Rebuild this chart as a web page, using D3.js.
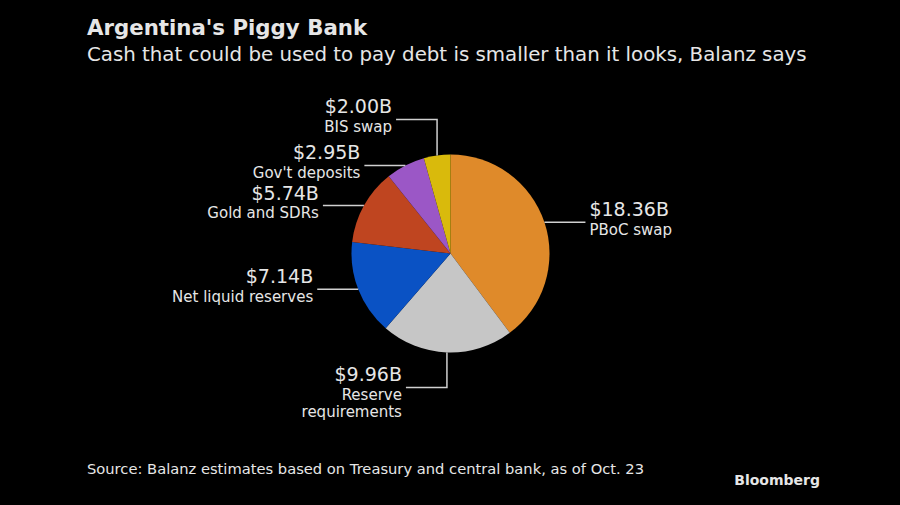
<!DOCTYPE html>
<html><head><meta charset="utf-8">
<script src="https://cdn.jsdelivr.net/npm/d3@7/dist/d3.min.js"></script>
<style>
html,body{margin:0;padding:0;background:#000;}
svg{display:block;}
text{font-family:"DejaVu Sans",sans-serif;fill:#e6e6e6;}
</style></head>
<body>
<script>
const categories = ["PBoC swap","Reserve requirements","Net liquid reserves","Gold and SDRs","Gov't deposits","BIS swap"];
const values = [18.36, 9.96, 7.14, 5.74, 2.95, 2.00];
const valueLabels = ["$18.36B","$9.96B","$7.14B","$5.74B","$2.95B","$2.00B"];
const nameLines = [["PBoC swap"],["Reserve","requirements"],["Net liquid reserves"],["Gold and SDRs"],["Gov't deposits"],["BIS swap"]];
const colors = ["#DF8A2A","#C6C6C6","#0A52C4","#BF4520","#9B57C6","#D9BA0C"];
// leader style: "h" = horizontal, "v" = vertical then horizontal
const leaderType = ["h","v","h","h","h","v"];

const W = 900, H = 505;
const svg = d3.select("body").append("svg").attr("width",W).attr("height",H);
svg.append("rect").attr("width",W).attr("height",H).attr("fill","#000");

svg.append("text").attr("x",87).attr("y",35).attr("font-size",21.3).attr("font-weight","bold").attr("fill","#f2f2f2")
  .text("Argentina's Piggy Bank");
svg.append("text").attr("x",87).attr("y",61).attr("font-size",19.8)
  .text("Cash that could be used to pay debt is smaller than it looks, Balanz says");
svg.append("text").attr("x",87).attr("y",474).attr("font-size",14.7).attr("fill","#cfcfcf")
  .text("Source: Balanz estimates based on Treasury and central bank, as of Oct. 23");
svg.append("text").attr("x",820).attr("y",485).attr("text-anchor","end").attr("font-size",14).attr("font-weight","bold")
  .attr("font-family","Liberation Sans, Arial, sans-serif").attr("fill","#e0e0e0")
  .text("Bloomberg");

const cx = 450.5, cy = 253.5, R = 99;
const pie = d3.pie().sort(null).value(d=>d)(values);
const arc = d3.arc().innerRadius(0).outerRadius(R);
const g = svg.append("g").attr("transform",`translate(${cx},${cy})`);
g.selectAll("path").data(pie).join("path").attr("d",arc).attr("fill",(d,i)=>colors[i]);

const lineColor = "#d0d0d0";
const lg = svg.append("g");
pie.forEach((d,i)=>{
  const a = (d.startAngle+d.endAngle)/2;
  const px = cx + R*Math.sin(a), py = cy - R*Math.cos(a);
  const right = Math.sin(a) > 0;
  const dir = right ? 1 : -1;
  let pts, ly, ex;
  if (leaderType[i]==="h") {
    ly = py; ex = px + dir*41;
    pts = [[px,py],[ex,py]];
  } else {
    const up = Math.cos(a) > 0;
    ly = py + (up ? -36 : 35);
    ex = px - 41;
    pts = [[px,py],[px,ly],[ex,ly]];
  }
  lg.append("path").attr("d",d3.line()(pts)).attr("fill","none").attr("stroke",lineColor).attr("stroke-width",1.5);
  const tx = ex + (right ? 4 : -4);
  const anchor = right ? "start" : "end";
  lg.append("text").attr("x",tx).attr("y",ly-6).attr("text-anchor",anchor).attr("font-size",19).attr("fill","#f0f0f0").text(valueLabels[i]);
  nameLines[i].forEach((t,j)=>{
    lg.append("text").attr("x",tx).attr("y",ly+12.5+j*17.5).attr("text-anchor",anchor).attr("font-size",15).attr("fill","#e6e6e6").text(t);
  });
});
</script>
</body></html>
